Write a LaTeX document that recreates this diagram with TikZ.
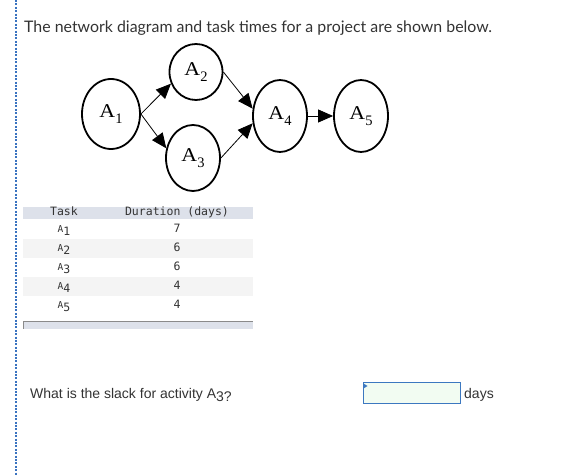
\documentclass[tikz,border=0pt]{standalone}
\usepackage{fontspec}
\setmainfont{Liberation Sans}
\newfontfamily\titlefont{Lato}
\newfontfamily\nodefont{Liberation Serif}
\setmonofont{DejaVu Sans Mono}
\usetikzlibrary{shapes.geometric,arrows.meta}

\definecolor{pagetext}{HTML}{333333}
\definecolor{railblue}{HTML}{3A73C0}
\definecolor{headgrey}{HTML}{DDE1EA}
\definecolor{rowgrey}{HTML}{F4F4F4}
\definecolor{barline}{HTML}{8A8A8A}
\definecolor{boxgreen}{HTML}{F2FCF2}
\definecolor{boxblue}{HTML}{3C78C0}

\newcommand{\actlbl}[1]{\scalebox{1.12}[1]{A}\raisebox{-0.28em}{\fontsize{14.5}{14.5}\selectfont #1}}
\newcommand{\tasklbl}[1]{{\fontsize{9.5}{10}\selectfont A}\raisebox{-0.35ex}{#1}}

\begin{document}
\begin{tikzpicture}[
    x=1pt, y=-1pt,
    act/.style={ellipse, draw=black, line width=1.8pt, inner sep=0pt, minimum width=54pt, minimum height=70pt, font=\nodefont\fontsize{19.5}{19.5}\selectfont},
    link/.style={-{Triangle[length=15pt,width=13pt]}, line width=0.8pt},
    cell/.style={anchor=base, inner sep=0pt, text=pagetext, font=\ttfamily\fontsize{11.5}{12}\selectfont},
    lbl/.style={anchor=base west, inner sep=0pt, text=pagetext}
]
\useasboundingbox (0,0) rectangle (566,476);

% Left rail
\draw[railblue, line width=2pt, dash pattern=on 2pt off 1.4pt] (16,0) -- (16,476);

% Title
\node[lbl, font=\titlefont\fontsize{15.9}{18}\selectfont] (title) at (24,32.5) {The network diagram and task times for a project are shown below.};

% Network
\node[act, minimum width=58pt, minimum height=70pt] (a1) at (111,114) {\actlbl{1}};
\node[act, minimum width=53pt, minimum height=56pt] (a2) at (196,72)  {\actlbl{2}};
\node[act, minimum width=54pt, minimum height=66pt] (a3) at (193,158) {\actlbl{3}};
\node[act, minimum width=54pt, minimum height=72pt] (a4) at (280,116) {\actlbl{4}};
\node[act, minimum width=54pt, minimum height=72pt] (a5) at (361,116) {\actlbl{5}};

\draw[link] (a1.east) -- (a2.205);
\draw[link] (a1.east) -- (a3.160);
\draw[link] (a2.east) -- (a4.165);
\draw[link] (a3.east) -- (a4.195);
\draw[link] (a4.east) -- (a5.west);

% Table
\fill[headgrey] (23,207) rectangle (253,219);
\fill[rowgrey] (23,239) rectangle (253,258);
\fill[rowgrey] (23,277) rectangle (253,296);
\node[cell] (hTask) at (64,216) {Task};
\node[cell] (hDur)  at (177,216) {Duration (days)};
\foreach \i/\d [count=\r] in {1/7,2/6,3/6,4/4,5/4} {
  \node[cell] (t\r) at (64,214+19*\r) {\tasklbl{\i}};
  \node[cell] (d\r) at (177,214+19*\r) {\d};
}
\fill[headgrey] (23,322) rectangle (253,329);
\draw[barline, line width=1pt] (23,329) -- (23,322) -- (253,322);

% Question
\node[lbl, font=\fontsize{14}{16}\selectfont] (quest) at (30,399) {What is the slack for activity A\raisebox{-0.4ex}{3?}};
\node[draw=boxblue, fill=boxgreen, line width=1pt, minimum width=97pt, minimum height=21pt, inner sep=0pt] (answer) at (411.5,393.5) {};
\fill[boxblue] (answer.north west) ++(1,1) -- ++(4,2.5) -- ++(-4,2.5) -- cycle;
\node[lbl, font=\fontsize{14}{16}\selectfont] (unit) at (464,399) {days};
\end{tikzpicture}
\end{document}
